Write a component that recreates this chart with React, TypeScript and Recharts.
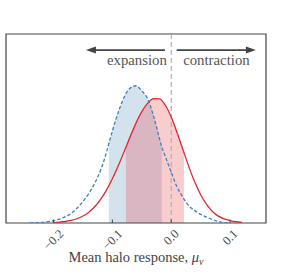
import React from 'react';
import { ComposedChart, Line, Area, XAxis, YAxis, ReferenceLine, ReferenceArea, Label } from 'recharts';

// sample positions along the x axis
const xGrid = [
  -0.24, -0.23, -0.22, -0.21, -0.2, -0.19, -0.18, -0.17, -0.16, -0.15,
  -0.14, -0.13, -0.12, -0.11, -0.1, -0.09, -0.08, -0.07, -0.06, -0.05,
  -0.04, -0.03, -0.02, -0.01, 0.0, 0.01, 0.02, 0.03, 0.04, 0.05,
  0.06, 0.07, 0.08, 0.09, 0.1, 0.11, 0.12, 0.13,
];

// dashed blue posterior (peak = 1)
const blueDensity = [
  0.001, 0.002, 0.005, 0.01, 0.017, 0.028, 0.046, 0.07, 0.108, 0.157,
  0.215, 0.289, 0.385, 0.515, 0.67, 0.807, 0.917, 0.982, 1.0, 0.962,
  0.905, 0.778, 0.617, 0.484, 0.37, 0.261, 0.185, 0.125, 0.09, 0.062,
  0.043, 0.026, 0.011, 0.003, 0.001, null, null, null,
];

// solid red posterior
const redDensity = [
  null, null, null, null, 0.003, 0.006, 0.011, 0.019, 0.031, 0.051,
  0.079, 0.118, 0.172, 0.239, 0.322, 0.417, 0.52, 0.626, 0.726, 0.811,
  0.873, 0.906, 0.904, 0.858, 0.772, 0.658, 0.533, 0.409, 0.298, 0.206,
  0.135, 0.084, 0.05, 0.03, 0.018, 0.009, 0.004, null,
];

// 68% intervals and the curve height at their edges
const blueInterval = [-0.106, -0.016];
const blueEdge = [0.579, 0.553];
const redInterval = [-0.077, 0.0216];
const redEdge = [0.552, 0.513];

const xTicks = [-0.2, -0.1, 0, 0.1];
const xDomain = [-0.2807, 0.161];
const yDomain = [0, 1.377];

const inside = (x: number, iv: number[]) => x >= iv[0] && x <= iv[1];

const rows: any[] = xGrid.map((x, i) => ({
  x,
  blue: blueDensity[i],
  red: redDensity[i],
  blueBand: inside(x, blueInterval) ? blueDensity[i] : null,
  redBand: inside(x, redInterval) ? redDensity[i] : null,
}));
blueInterval.forEach((x, i) => rows.push({ x, blue: blueEdge[i], blueBand: blueEdge[i] }));
redInterval.forEach((x, i) => rows.push({ x, red: redEdge[i], redBand: redEdge[i] }));
rows.sort((a, b) => a.x - b.x);

const FONT = "'Liberation Serif', 'DejaVu Serif', Times, serif";
const INK = '#444';

const charW: Record<string, number> = { '\u2212': 0.564, '.': 0.25 };
const textWidth = (s: string, fs: number) =>
  s.split('').reduce((w, c) => w + (charW[c] ?? 0.5), 0) * fs;

const fmt = (v: number) => (v < 0 ? '\u2212' : '') + Math.abs(v).toFixed(1);

const AxisTick = (props: any) => {
  const { x, y, payload } = props;
  const label = fmt(payload.value);
  const cy = y + 7 + 0.354 * (textWidth(label, 12.5) + 5);
  return (
    <g>
      <line x1={x} x2={x} y1={y} y2={y - 3.5} stroke={INK} strokeWidth={1} />
      <text
        x={x}
        y={cy}
        textAnchor="middle"
        dominantBaseline="central"
        transform={`rotate(-45 ${x} ${cy})`}
        style={{ fontFamily: FONT }}
        fontSize={12.5}
        fill={INK}
      >
        {label}
      </text>
    </g>
  );
};

const AxisTitle = (props: any) => {
  const vb = props.viewBox || { x: 6, y: 223, width: 260, height: 57 };
  return (
    <text
      x={vb.x + vb.width / 2}
      y={vb.y + 39}
      textAnchor="middle"
      style={{ fontFamily: FONT }}
      fontSize={14.5}
      fill={INK}
    >
      Mean halo response,{' '}
      <tspan fontStyle="italic">μ</tspan>
      <tspan fontStyle="italic" fontSize={10} dy={3}>ν</tspan>
    </text>
  );
};

const arrowShape = (text: string) => (p: any) => {
  const { x1, y1, x2, y2 } = p;
  const d = x2 > x1 ? 1 : -1;
  return (
    <g>
      <line x1={x1} y1={y1} x2={x2 - d * 8} y2={y2} stroke={INK} strokeWidth={1.8} />
      <polygon
        points={`${x2},${y2} ${x2 - d * 10},${y2 - 3.5} ${x2 - d * 10},${y2 + 3.5}`}
        fill={INK}
      />
      <text
        x={d < 0 ? x1 + 2 : x1 + 6.5}
        y={y1 + 14.7}
        textAnchor={d < 0 ? 'end' : 'start'}
        style={{ fontFamily: FONT }}
        fontSize={14.8}
        fill="#555"
      >
        {text}
      </text>
    </g>
  );
};

export default function App() {
  return (
    <div style={{ position: 'absolute', left: 0, top: 0, width: 299, height: 280, background: '#fff' }}>
      <ComposedChart width={299} height={280} data={rows} margin={{ top: 34, right: 33, bottom: 0, left: 6 }}>
        <XAxis
          dataKey="x"
          type="number"
          domain={xDomain}
          allowDataOverflow
          ticks={xTicks}
          axisLine={false}
          tickLine={false}
          tickSize={0}
          tickMargin={0}
          height={57}
          tick={<AxisTick />}
          label={<Label content={AxisTitle} />}
        />
        <YAxis type="number" domain={yDomain} allowDataOverflow hide />
        <Area
          dataKey="blueBand"
          type="monotone"
          stroke="none"
          fill="#4682b4"
          fillOpacity={0.23}
          connectNulls
          isAnimationActive={false}
        />
        <Area
          dataKey="redBand"
          type="monotone"
          stroke="none"
          fill="#e8333a"
          fillOpacity={0.25}
          connectNulls
          isAnimationActive={false}
        />
        <ReferenceLine x={0} stroke="#b0b0b0" strokeWidth={1.2} strokeDasharray="5 3" />
        <Line
          dataKey="red"
          type="monotone"
          stroke="#e3262e"
          strokeWidth={1.3}
          dot={false}
          connectNulls
          isAnimationActive={false}
        />
        <Line
          dataKey="blue"
          type="monotone"
          stroke="#3f7fc0"
          strokeWidth={1.3}
          strokeDasharray="3.5 2"
          dot={false}
          connectNulls
          isAnimationActive={false}
        />
        <ReferenceLine
          segment={[{ x: -0.0107, y: 1.26 }, { x: -0.1449, y: 1.26 }]}
          shape={arrowShape('expansion')}
        />
        <ReferenceLine
          segment={[{ x: 0.0092, y: 1.26 }, { x: 0.1438, y: 1.26 }]}
          shape={arrowShape('contraction')}
        />
        <ReferenceArea
          x1={xDomain[0]}
          x2={xDomain[1]}
          y1={yDomain[0]}
          y2={yDomain[1]}
          fill="none"
          stroke={INK}
          strokeWidth={1.2}
        />
      </ComposedChart>
    </div>
  );
}
